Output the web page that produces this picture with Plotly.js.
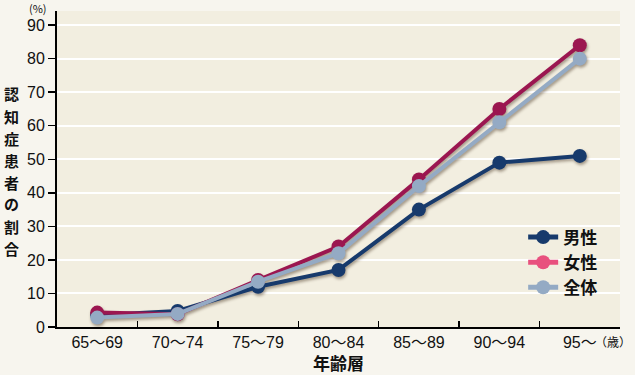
<!DOCTYPE html>
<html><head><meta charset="utf-8">
<script src="https://cdn.plot.ly/plotly-3.0.1.min.js"></script>
<style>
html,body{margin:0;padding:0;background:#f7f5ee;}
#chart{width:635px;height:375px;}
#chart .scatterlayer{filter:drop-shadow(1px 2px 1.5px rgba(60,40,20,0.45));}
</style></head>
<body><div id="chart"></div>
<script>
const categories = ['65～69','70～74','75～79','80～84','85～89','90～94','95～'];
const male   = [3.5, 4.8, 12, 17, 35, 49, 51];
const female = [4.3, 3.8, 14, 24, 44, 65, 84];
const total  = [2.8, 3.9, 13.5, 22, 42, 61, 80];
const seriesNames = ['男性','女性','全体'];
const lineColors = ['#173a6c','#9b1650','#94aac4'];
const legendColors = ['#173a6c','#e8507e','#94aac4'];
const yTicks = [0,10,20,30,40,50,60,70,80,90];
const yTitle = '認知症患者の割合';

const font = "'Liberation Sans Narrow','Liberation Sans','Noto Sans CJK JP',sans-serif";
const cjk = "'Noto Sans CJK JP',sans-serif";

const dataSets = [male, female, total];
const traces = dataSets.map((d,i)=>({
  x: categories, y: d, type:'scatter', mode:'lines+markers',
  name: seriesNames[i], showlegend:false,
  line:{color:lineColors[i], width:4},
  marker:{color:lineColors[i], size:14},
  cliponaxis:false
}));
const legendTraces = seriesNames.map((n,i)=>({
  x:[null], y:[null], type:'scatter', mode:'lines+markers', name:'<b>'+n+'</b>',
  line:{color:legendColors[i], width:5},
  marker:{color:legendColors[i], size:14}
}));

// vertical stacked title: one annotation per character
const plotTop = 11, plotH = 316;
const titleAnns = Array.from(yTitle).map((ch,k)=>({
  text:'<b>'+ch+'</b>', xref:'paper', yref:'paper',
  x:-0.081, y:(327 - (94 + k*22))/plotH, xanchor:'center', yanchor:'middle',
  showarrow:false, font:{family:cjk, size:15, color:'#111'}
}));

const layout = {
  width:635, height:375,
  margin:{l:57, r:15, t:plotTop, b:48},
  paper_bgcolor:'#f7f5ee',
  plot_bgcolor:'#f2eee0',
  showlegend:true,
  legend:{x:0.828, y:0.34, xanchor:'left', yanchor:'top', bgcolor:'rgba(0,0,0,0)',
    font:{family:cjk, size:17, color:'#111'}, itemwidth:30, tracegroupgap:0},
  xaxis:{type:'category', range:[-0.5,6.5], tickson:'boundaries', ticks:'inside', ticklen:6,
    tickwidth:1.5, tickcolor:'#000', showline:true, linecolor:'#000', linewidth:2,
    showgrid:false, tickfont:{family:font, size:16, color:'#111'},
    title:{text:'<b>年齢層</b>', font:{family:cjk, size:17, color:'#111'}, standoff:8}},
  yaxis:{range:[0,94.2], tickvals:yTicks, ticks:'outside', ticklen:7, tickwidth:1.5,
    tickcolor:'#000', showline:true, linecolor:'#000', linewidth:2,
    showgrid:true, gridcolor:'#ffffff', gridwidth:2, zeroline:false,
    tickfont:{family:font, size:16, color:'#111'}},
  annotations:titleAnns.concat([
    {text:'(%)', xref:'paper', yref:'paper', x:-0.034, y:1.0095, xanchor:'center', yanchor:'middle',
     showarrow:false, font:{family:cjk, size:11, color:'#111'}},
    {text:'（歳）', xref:'paper', yref:'paper', x:1.023, y:-0.047, xanchor:'right', yanchor:'middle',
     showarrow:false, font:{family:cjk, size:12, color:'#111'}}
  ])
};
Plotly.newPlot('chart', traces.concat(legendTraces), layout, {displayModeBar:false, staticPlot:true});
</script></body></html>
